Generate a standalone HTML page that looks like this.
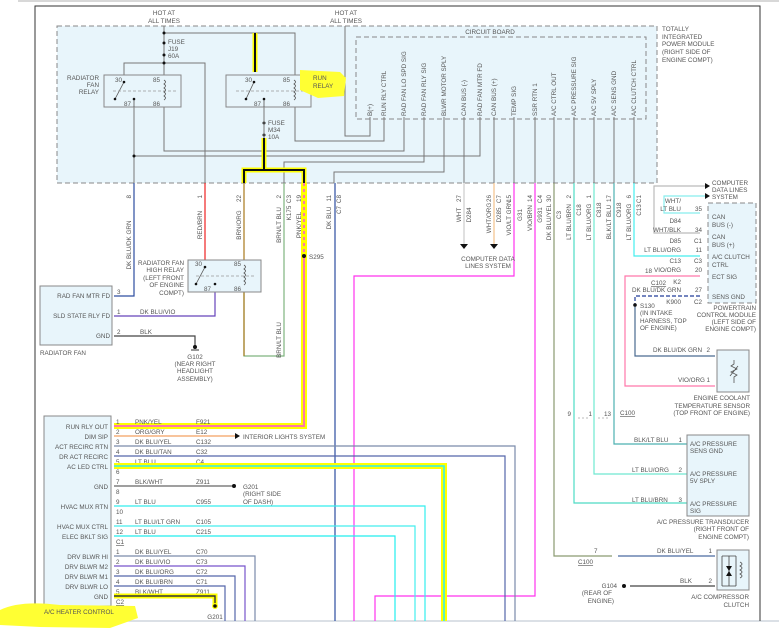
<!DOCTYPE html>
<html><head><meta charset="utf-8"><style>
html,body{margin:0;padding:0;background:#fff;}
svg{display:block;font-family:"Liberation Sans",sans-serif;}
text{font-size:6.3px;fill:#555;}
</style></head><body>
<svg width="779" height="629" viewBox="0 0 779 629" xmlns="http://www.w3.org/2000/svg">
<rect width="779" height="629" fill="#fff"/>
<line x1="18" y1="1" x2="779" y2="1" stroke="#ccc" stroke-width="1.5"/>
<line x1="0" y1="621" x2="779" y2="621" stroke="#cfd6dd" stroke-width="1.5"/>
<polyline points="35,621 35,6 760,6 760,621" fill="none" stroke="#333" stroke-width="1"/>

<rect x="57" y="26" width="600" height="157" fill="#e8f5fb" stroke="#888" stroke-dasharray="5,3"/>
<rect x="356" y="37" width="290" height="82" fill="#e8f5fb" stroke="#888" stroke-dasharray="5,3"/>
<text x="490" y="34" text-anchor="middle">CIRCUIT BOARD</text>
<text x="662" y="31">TOTALLY</text><text x="662" y="39">INTEGRATED</text><text x="662" y="46">POWER MODULE</text><text x="662" y="54">(RIGHT SIDE OF</text><text x="662" y="62">ENGINE COMPT)</text>
<text x="164" y="15" text-anchor="middle">HOT AT</text><text x="164" y="23" text-anchor="middle">ALL TIMES</text>
<text x="346" y="15" text-anchor="middle">HOT AT</text><text x="346" y="23" text-anchor="middle">ALL TIMES</text>

<g fill="none" stroke="#777" stroke-width="1">
<polyline points="164,26 164,75"/>
<polyline points="164,33 295,33 295,75"/>
<polyline points="124,75 124,63 205,63 205,183"/>
<polyline points="134,107 134,183"/>
<polyline points="164,107 164,151 404,151 404,117"/>
<polyline points="134,156 480,156 480,117"/>
<polyline points="295,107 295,141 384,141 384,117"/>
<polyline points="345,26 345,136 370,136 370,117"/>
<polyline points="424,117 424,162 284,162 284,183"/>
<polyline points="444,117 444,172 334,172 334,183"/>
<polyline points="264,107 264,118"/>
</g>
<g stroke="#777" stroke-width="1">
<line x1="464" y1="117" x2="464" y2="183"/><line x1="494" y1="117" x2="494" y2="183"/>
<line x1="514" y1="117" x2="514" y2="183"/><line x1="535" y1="117" x2="535" y2="183"/>
<line x1="554" y1="117" x2="554" y2="183"/><line x1="574" y1="117" x2="574" y2="183"/>
<line x1="594" y1="117" x2="594" y2="183"/><line x1="614" y1="117" x2="614" y2="183"/>
<line x1="634" y1="117" x2="634" y2="183"/>
</g>
<g transform="rotate(-90)" text-anchor="start">
<text x="-116" y="372">B(+)</text>
<text x="-116" y="386">RUN RLY CTRL</text>
<text x="-116" y="406">RAD FAN LO SPD SIG</text>
<text x="-116" y="426">RAD FAN RLY SIG</text>
<text x="-116" y="446">BLWR MOTOR SPLY</text>
<text x="-116" y="466">CAN BUS (-)</text>
<text x="-116" y="482">RAD FAN MTR FD</text>
<text x="-116" y="496">CAN BUS (+)</text>
<text x="-116" y="516">TEMP SIG</text>
<text x="-116" y="537">SSR RTN 1</text>
<text x="-116" y="556">A/C CTRL OUT</text>
<text x="-116" y="576">A/C PRESSURE SIG</text>
<text x="-116" y="596">A/C 5V SPLY</text>
<text x="-116" y="616">A/C SENS GND</text>
<text x="-116" y="636">A/C CLUTCH CTRL</text>
</g>
<g fill="#111"><circle cx="164" cy="33" r="1.5"/><circle cx="164" cy="43" r="1.5"/><circle cx="164" cy="55" r="1.5"/><circle cx="164" cy="63" r="1.5"/><circle cx="264" cy="123" r="1.5"/><circle cx="264" cy="135" r="1.5"/><circle cx="134" cy="156" r="1.5"/></g>
<text x="168" y="44">FUSE</text><text x="168" y="51">J19</text><text x="168" y="58">60A</text>
<text x="268" y="125">FUSE</text><text x="268" y="132">M34</text><text x="268" y="139">10A</text>
<line x1="264" y1="118" x2="264" y2="138" stroke="#777"/>

<rect x="104" y="75" width="77" height="32" fill="#e8f5fb" stroke="#888"/>
<rect x="226" y="75" width="85" height="32" fill="#e8f5fb" stroke="#888"/>
<g fill="none" stroke="#555" stroke-width="0.8">
<line x1="124" y1="82" x2="115" y2="99"/>
<line x1="113" y1="91" x2="176" y2="91" stroke-dasharray="3,2" stroke="#999"/>
<line x1="236" y1="91" x2="306" y2="91" stroke-dasharray="3,2" stroke="#999"/>
<path d="M164,80 q3,2 0,4 q3,2 0,4 q3,2 0,4 q3,2 0,4 q3,2 0,4"/>
<path d="M294,80 q3,2 0,4 q3,2 0,4 q3,2 0,4 q3,2 0,4 q3,2 0,4"/>
<path d="M134,100 v7 M264,100 v7"/>
</g>
<line x1="254" y1="82" x2="246" y2="99" stroke="#555" stroke-width="0.8"/>
<g fill="#111"><circle cx="124" cy="82" r="1.3"/><circle cx="115" cy="99" r="1.3"/><circle cx="134" cy="99" r="1.3"/><circle cx="254" cy="82" r="1.3"/><circle cx="246" cy="99" r="1.3"/><circle cx="264" cy="99" r="1.3"/></g>
<text x="99" y="80" text-anchor="end">RADIATOR</text><text x="99" y="87" text-anchor="end">FAN</text><text x="99" y="94" text-anchor="end">RELAY</text>
<text x="115" y="82">30</text><text x="153" y="82">85</text><text x="124" y="106">87</text><text x="153" y="106">86</text>
<text x="245" y="82">30</text><text x="283" y="82">85</text><text x="254" y="106">87</text><text x="283" y="106">86</text>
<path d="M300,70 L340,72 L346,78 L344,96 L318,98 L300,90 Z" fill="#ffff33"/>
<text x="313" y="80">RUN</text><text x="313" y="88">RELAY</text>
<g fill="none">
<line x1="255" y1="33" x2="255" y2="72" stroke="#ff0" stroke-width="5"/>
<line x1="255" y1="33" x2="255" y2="72" stroke="#111" stroke-width="2"/>
<polyline points="264,138 264,170 244,170 244,183" stroke="#ff0" stroke-width="5"/>
<polyline points="264,170 304,170 304,183" stroke="#ff0" stroke-width="5"/>
<polyline points="264,138 264,170 244,170 244,183" stroke="#111" stroke-width="2"/>
<polyline points="264,170 304,170 304,183" stroke="#111" stroke-width="2"/>
</g>

<g transform="rotate(-90)">
<text x="-195" y="131" text-anchor="end">8</text><text x="-245" y="131" text-anchor="middle">DK BLU/DK GRN</text>
<text x="-195" y="202" text-anchor="end">1</text><text x="-225" y="202" text-anchor="middle">RED/BRN</text>
<text x="-195" y="241" text-anchor="end">22</text><text x="-225" y="241" text-anchor="middle">BRN/ORG</text>
<text x="-195" y="281" text-anchor="end">2</text><text x="-225" y="281" text-anchor="middle">BRN/LT BLU</text>
<text x="-195" y="291" text-anchor="end">C3</text><text x="-213" y="291" text-anchor="middle">K175</text>
<text x="-195" y="301" text-anchor="end">19</text><text x="-225" y="301" text-anchor="middle">PNK/YEL</text>
<text x="-195" y="331" text-anchor="end">11</text><text x="-218" y="331" text-anchor="middle">DK BLU</text>
<text x="-195" y="341" text-anchor="end">C8</text><text x="-210" y="341" text-anchor="middle">C7</text>
<text x="-195" y="461" text-anchor="end">27</text><text x="-215" y="461" text-anchor="middle">WHT</text><text x="-215" y="471" text-anchor="middle">D284</text>
<text x="-195" y="491" text-anchor="end">26</text><text x="-218" y="491" text-anchor="middle">WHT/ORG</text><text x="-195" y="501" text-anchor="end">C7</text><text x="-215" y="501" text-anchor="middle">D285</text>
<text x="-195" y="511" text-anchor="end">15</text><text x="-218" y="511" text-anchor="middle">VIO/LT GRN</text><text x="-215" y="522" text-anchor="middle">G31</text>
<text x="-195" y="532" text-anchor="end">14</text><text x="-218" y="532" text-anchor="middle">VIO/BRN</text><text x="-195" y="542" text-anchor="end">C4</text><text x="-215" y="542" text-anchor="middle">G931</text>
<text x="-195" y="551" text-anchor="end">30</text><text x="-222" y="551" text-anchor="middle">DK BLU/YEL</text><text x="-215" y="561" text-anchor="middle">C3</text>
<text x="-195" y="571" text-anchor="end">2</text><text x="-222" y="571" text-anchor="middle">LT BLU/BRN</text><text x="-210" y="581" text-anchor="middle">C18</text>
<text x="-195" y="591" text-anchor="end">1</text><text x="-222" y="591" text-anchor="middle">LT BLU/ORG</text><text x="-210" y="601" text-anchor="middle">C818</text>
<text x="-195" y="611" text-anchor="end">17</text><text x="-222" y="611" text-anchor="middle">BLK/LT BLU</text><text x="-210" y="621" text-anchor="middle">C918</text>
<text x="-195" y="631" text-anchor="end">6</text><text x="-222" y="631" text-anchor="middle">LT BLU/ORG</text><text x="-195" y="641" text-anchor="end">C1</text><text x="-210" y="641" text-anchor="middle">C13</text>
</g>

<g fill="none" stroke-width="1.2">
<polyline points="134,183 134,296 114,296" stroke="#2d4ea0"/>
<line x1="205" y1="183" x2="205" y2="260" stroke="#e22"/>
<line x1="244" y1="183" x2="244" y2="260" stroke="#a8781a"/>
<polyline points="284,183 284,356 244,356 244,292" stroke="#7fb47f"/>
<polyline points="244,292 244,356" stroke="#a8781a"/>
<polyline points="215,292 215,316 114,316" stroke="#6644bb"/>
<polyline points="114,336 195,336 195,346" stroke="#444"/>
<line x1="335" y1="183" x2="335" y2="621" stroke="#2d4ea0"/>
<line x1="464" y1="183" x2="464" y2="244" stroke="#ccc"/>
<line x1="494" y1="183" x2="494" y2="244" stroke="#f3c08a"/>
<polyline points="514,183 514,276 354,276 354,621" stroke="#f3e"/>
<polyline points="535,183 535,596 375,596 375,621" stroke="#f3e"/>
<polyline points="554,183 554,556 612,556" stroke="#8a9a70"/>
<polyline points="618,556 715,556" stroke="#4a6aa0"/>
<polyline points="574,183 574,503 700,503" stroke="#4ddbc4"/>
<polyline points="594,183 594,474 700,474" stroke="#6fe8d0"/>
<polyline points="614,183 614,444 700,444" stroke="#4cb0b0"/>
<polyline points="634,183 634,256 700,256" stroke="#4ee"/>
<polyline points="705,186 654,186 654,233 700,233" stroke="#bbb"/>
<polyline points="705,196 664,196 664,213 700,213" stroke="#8ee"/>
<polyline points="700,276 625,276 625,386 715,386" stroke="#f7a"/>
<polyline points="700,296 635,296 635,305" stroke="#223c99" stroke-dasharray="4,2"/>
<polyline points="635,305 635,356 715,356" stroke="#4a6a90"/>
<line x1="630" y1="586" x2="715" y2="586" stroke="#444"/>
</g>
<g fill="none">
<polyline points="304,183 304,426 114,426" stroke="#ff0" stroke-width="6"/>
<line x1="304" y1="183" x2="304" y2="256" stroke="#f7a" stroke-width="2" stroke-dasharray="3,3"/>
<polyline points="304,256 304,426 114,426" stroke="#f7a" stroke-width="2"/>
</g>
<circle cx="304" cy="256" r="2" fill="#111"/><text x="309" y="259">S295</text>
<g fill="#111">
<path d="M460,244 h8 l-4,5 z"/><path d="M490,244 h8 l-4,5 z"/>
<path d="M705,183 v6 l5,-3 z"/><path d="M705,193 v6 l5,-3 z"/>
<path d="M235,433 v6 l5,-3 z"/>
</g>
<text x="488" y="261" text-anchor="middle">COMPUTER DATA</text><text x="488" y="268" text-anchor="middle">LINES SYSTEM</text>
<text x="712" y="185">COMPUTER</text><text x="712" y="192">DATA LINES</text><text x="712" y="199">SYSTEM</text>

<rect x="188" y="260" width="73" height="32" fill="#e8f5fb" stroke="#888"/>
<line x1="205" y1="267" x2="196" y2="284" stroke="#555" stroke-width="0.8"/>
<line x1="196" y1="276" x2="256" y2="276" stroke="#999" stroke-width="0.8" stroke-dasharray="3,2"/>
<path d="M244,265 q3,2 0,4 q3,2 0,4 q3,2 0,4 q3,2 0,4 q3,2 0,4" fill="none" stroke="#555" stroke-width="0.8"/>
<g fill="#111"><circle cx="205" cy="267" r="1.3"/><circle cx="196" cy="284" r="1.3"/><circle cx="215" cy="284" r="1.3"/></g>
<text x="195" y="266">30</text><text x="234" y="266">85</text><text x="204" y="291">87</text><text x="234" y="291">86</text>
<text x="184" y="265" text-anchor="end">RADIATOR FAN</text><text x="184" y="272" text-anchor="end">HIGH RELAY</text><text x="184" y="280" text-anchor="end">(LEFT FRONT</text><text x="184" y="287" text-anchor="end">OF ENGINE</text><text x="184" y="295" text-anchor="end">COMPT)</text>
<text x="281" y="340" transform="rotate(-90 281 340)" text-anchor="middle">BRN/LT BLU</text>

<rect x="40" y="286" width="72" height="59" fill="#e8f5fb" stroke="#888"/>
<text x="110" y="298" text-anchor="end">RAD FAN MTR FD</text><text x="117" y="294">3</text>
<text x="110" y="318" text-anchor="end">SLD STATE RLY FD</text><text x="117" y="314">1</text><text x="140" y="314">DK BLU/VIO</text>
<text x="110" y="338" text-anchor="end">GND</text><text x="117" y="334">2</text><text x="140" y="334">BLK</text>
<text x="40" y="355">RADIATOR FAN</text>
<circle cx="195" cy="347" r="2" fill="#111"/><line x1="191" y1="350" x2="199" y2="350" stroke="#333"/>
<text x="195" y="359" text-anchor="middle">G102</text><text x="195" y="366" text-anchor="middle">(NEAR RIGHT</text><text x="195" y="373" text-anchor="middle">HEADLIGHT</text><text x="195" y="381" text-anchor="middle">ASSEMBLY)</text>

<rect x="44" y="416" width="67" height="190" fill="#e8f5fb" stroke="#888"/>
<g text-anchor="end">
<text x="108" y="429">RUN RLY OUT</text><text x="108" y="439">DIM SIP</text><text x="108" y="449">ACT RECIRC RTN</text><text x="108" y="459">DR ACT RECIRC</text><text x="108" y="469">AC LED CTRL</text><text x="108" y="489">GND</text><text x="108" y="509">HVAC MUX RTN</text><text x="108" y="529">HVAC MUX CTRL</text><text x="108" y="539">ELEC BKLT SIG</text><text x="108" y="559">DRV BLWR HI</text><text x="108" y="569">DRV BLWR M2</text><text x="108" y="579">DRV BLWR M1</text><text x="108" y="589">DRV BLWR LO</text><text x="108" y="599">GND</text>
</g>
<g>
<text x="116" y="424">1</text><text x="135" y="424">PNK/YEL</text><text x="196" y="424">F921</text>
<text x="116" y="434">2</text><text x="135" y="434">ORG/GRY</text><text x="196" y="434">E12</text>
<text x="116" y="444">3</text><text x="135" y="444">DK BLU/YEL</text><text x="196" y="444">C132</text>
<text x="116" y="454">4</text><text x="135" y="454">DK BLU/TAN</text><text x="196" y="454">C32</text>
<text x="116" y="464">5</text><text x="135" y="464">LT BLU</text><text x="196" y="464">C4</text>
<text x="116" y="474">6</text>
<text x="116" y="484">7</text><text x="135" y="484">BLK/WHT</text><text x="196" y="484">Z911</text>
<text x="116" y="494">8</text>
<text x="116" y="504">9</text><text x="135" y="504">LT BLU</text><text x="196" y="504">C955</text>
<text x="116" y="514">10</text>
<text x="116" y="524">11</text><text x="135" y="524">LT BLU/LT GRN</text><text x="196" y="524">C105</text>
<text x="116" y="534">12</text><text x="135" y="534">LT BLU</text><text x="196" y="534">C215</text>
<text x="116" y="544" text-decoration="underline">C1</text>
<text x="116" y="554">1</text><text x="135" y="554">DK BLU/YEL</text><text x="196" y="554">C70</text>
<text x="116" y="564">2</text><text x="135" y="564">DK BLU/VIO</text><text x="196" y="564">C73</text>
<text x="116" y="574">3</text><text x="135" y="574">DK BLU/ORG</text><text x="196" y="574">C72</text>
<text x="116" y="584">4</text><text x="135" y="584">DK BLU/BRN</text><text x="196" y="584">C71</text>
<text x="116" y="594">5</text><text x="135" y="594">BLK/WHT</text><text x="196" y="594">Z911</text>
<text x="116" y="604" text-decoration="underline">C2</text>
</g>
<text x="243" y="439">INTERIOR LIGHTS SYSTEM</text>
<g fill="none" stroke-width="1.2">
<line x1="114" y1="436" x2="235" y2="436" stroke="#f3a060"/>
<polyline points="114,446 515,446 515,621" stroke="#7a8aaa"/>
<polyline points="114,456 505,456 505,621" stroke="#5566aa"/>
<polyline points="114,466 444,466 444,621" stroke="#ff0" stroke-width="6"/>
<polyline points="114,466 444,466 444,621" stroke="#3ee" stroke-width="1.6"/>
<polyline points="114,486 232,486" stroke="#666"/>
<polyline points="114,506 425,506 425,621" stroke="#3ee"/>
<polyline points="114,526 415,526 415,621" stroke="#4ee"/>
<polyline points="114,536 395,536 395,621" stroke="#2ee"/>
<polyline points="114,556 255,556 255,621" stroke="#7a8aaa"/>
<polyline points="114,566 245,566 245,621" stroke="#7755cc"/>
<polyline points="114,576 235,576 235,621" stroke="#5566aa"/>
<polyline points="114,586 225,586 225,621" stroke="#5566aa"/>
<polyline points="114,596 215,596 215,606" stroke="#ff0" stroke-width="5"/>
<polyline points="114,596 215,596 215,606" stroke="#333" stroke-width="1.4"/>
</g>
<circle cx="234" cy="486" r="2" fill="#111"/><text x="243" y="489">G201</text><text x="243" y="496">(RIGHT SIDE</text><text x="243" y="504">OF DASH)</text>
<circle cx="215" cy="606" r="3" fill="#ff0"/><circle cx="215" cy="606" r="1.8" fill="#111"/>
<text x="215" y="619" text-anchor="middle">G201</text>
<path d="M0,610 Q20,600 60,605 L135,606 L138,618 L110,628 L40,627 L0,625 Z" fill="#ffff33"/>
<text x="44" y="614">A/C HEATER CONTROL</text>

<rect x="708" y="203" width="48" height="100" fill="#e8f5fb" stroke="#888" stroke-dasharray="5,3"/>
<text x="712" y="219">CAN</text><text x="712" y="227">BUS (-)</text>
<text x="712" y="239">CAN</text><text x="712" y="247">BUS (+)</text>
<text x="712" y="259">A/C CLUTCH</text><text x="712" y="267">CTRL</text>
<text x="712" y="279">ECT SIG</text><text x="712" y="299">SENS GND</text>
<g text-anchor="end">
<text x="681" y="203">WHT/</text><text x="681" y="211">LT BLU</text><text x="702" y="211">35</text>
<text x="681" y="223">D84</text>
<text x="681" y="232">WHT/BLK</text><text x="702" y="232">34</text>
<text x="681" y="243">D85</text><text x="702" y="243">C1</text>
<text x="681" y="252">LT BLU/ORG</text><text x="702" y="252">11</text>
<text x="681" y="263">C13</text><text x="702" y="263">C3</text>
<text x="681" y="272">VIO/ORG</text><text x="702" y="272">20</text>
<text x="681" y="284">K2</text>
<text x="681" y="292">DK BLU/DK GRN</text><text x="702" y="292">27</text>
<text x="681" y="304">K900</text><text x="702" y="304">C2</text>
</g>
<text x="645" y="273">18</text><text x="651" y="285" text-decoration="underline">C102</text>
<circle cx="635" cy="305" r="1.8" fill="#111"/>
<text x="640" y="308">S130</text><text x="640" y="315">(IN INTAKE</text><text x="640" y="323">HARNESS, TOP</text><text x="640" y="330">OF ENGINE)</text>
<text x="756" y="310" text-anchor="end">POWERTRAIN</text><text x="756" y="317" text-anchor="end">CONTROL MODULE</text><text x="756" y="324" text-anchor="end">(LEFT SIDE OF</text><text x="756" y="331" text-anchor="end">ENGINE COMPT)</text>

<rect x="717" y="350" width="32" height="42" fill="#e8f5fb" stroke="#888"/>
<path d="M734,360 v4 l-3,2 l6,3 l-6,3 l6,3 l-3,2 v6 M730,376 l8,-10" fill="none" stroke="#555" stroke-width="0.8"/>
<text x="653" y="352">DK BLU/DK GRN</text><text x="710" y="352" text-anchor="end">2</text>
<text x="678" y="382">VIO/ORG</text><text x="710" y="382" text-anchor="end">1</text>
<text x="750" y="400" text-anchor="end">ENGINE COOLANT</text><text x="750" y="408" text-anchor="end">TEMPERATURE SENSOR</text><text x="750" y="415" text-anchor="end">(TOP FRONT OF ENGINE)</text>

<text x="571" y="416" text-anchor="end">9</text><text x="592" y="416" text-anchor="end">1</text><text x="611" y="416" text-anchor="end">13</text>
<text x="620" y="415" text-decoration="underline">C100</text>
<line x1="578" y1="418" x2="590" y2="418" stroke="#bbb" stroke-dasharray="2,2"/><line x1="598" y1="418" x2="610" y2="418" stroke="#bbb" stroke-dasharray="2,2"/>

<rect x="687" y="435" width="62" height="81" fill="#e8f5fb" stroke="#888"/>
<text x="690" y="446">A/C PRESSURE</text><text x="690" y="453">SENS GND</text>
<text x="690" y="476">A/C PRESSURE</text><text x="690" y="483">5V SPLY</text>
<text x="690" y="506">A/C PRESSURE</text><text x="690" y="513">SIG</text>
<text x="634" y="442">BLK/LT BLU</text><text x="682" y="442" text-anchor="end">1</text>
<text x="632" y="472">LT BLU/ORG</text><text x="682" y="472" text-anchor="end">2</text>
<text x="632" y="502">LT BLU/BRN</text><text x="682" y="502" text-anchor="end">3</text>
<text x="749" y="524" text-anchor="end">A/C PRESSURE TRANSDUCER</text><text x="749" y="531" text-anchor="end">(RIGHT FRONT OF</text><text x="749" y="539" text-anchor="end">ENGINE COMPT)</text>

<text x="594" y="553">7</text><text x="578" y="564" text-decoration="underline">C100</text>
<rect x="717" y="550" width="32" height="40" fill="#e8f5fb" stroke="#888"/>
<path d="M722,556 h14 M722,586 h14 M722,556 v30 M729,556 v30 M736,556 v30" fill="none" stroke="#444" stroke-width="0.8"/>
<path d="M726,566 h6 l-3,5 z M726,576 h6 l-3,-5 z" fill="#111"/>
<path d="M740,562 q4,2 0,4 q4,2 0,4 q4,2 0,4 q4,2 0,4" fill="none" stroke="#555" stroke-width="0.8"/>
<text x="657" y="553">DK BLU/YEL</text><text x="712" y="553" text-anchor="end">1</text>
<text x="680" y="583">BLK</text><text x="712" y="583" text-anchor="end">2</text>
<circle cx="624" cy="586" r="2" fill="#111"/>
<text x="617" y="588" text-anchor="end">G104</text><text x="612" y="595" text-anchor="end">(REAR OF</text><text x="614" y="603" text-anchor="end">ENGINE)</text>
<text x="749" y="599" text-anchor="end">A/C COMPRESSOR</text><text x="749" y="607" text-anchor="end">CLUTCH</text>
</svg>
</body></html>
